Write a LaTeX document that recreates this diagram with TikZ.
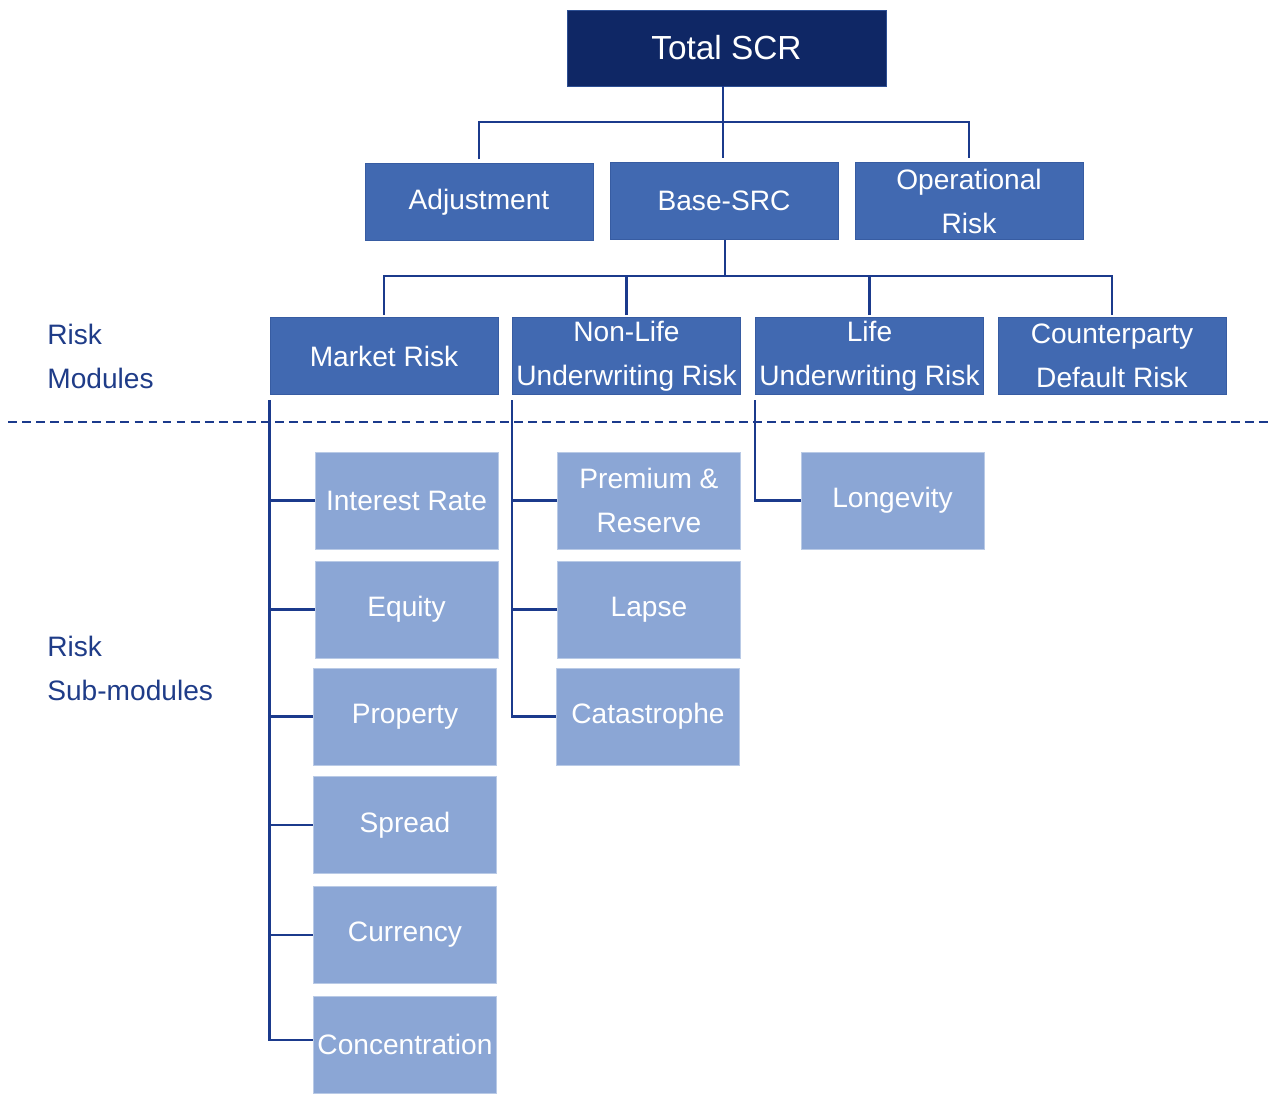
\documentclass[tikz,border=0pt]{standalone}
\usepackage{fontspec}
\setmainfont{Liberation Sans}
\usepackage{tikz}
\usetikzlibrary{positioning}

\definecolor{scrnavy}{HTML}{0F2765}
\definecolor{modblue}{HTML}{4169B1}
\definecolor{subblue}{HTML}{8BA6D5}
\definecolor{linkblue}{HTML}{1B3A8C}
\definecolor{labelblue}{HTML}{1F3C88}

\tikzset{
	topbox/.style={fill=scrnavy,draw=modblue!60!scrnavy,thin,text=white,minimum width=6.38cm,minimum height=1.52cm,inner sep=0pt,font=\fontsize{19}{25}\selectfont},
	modbox/.style={fill=modblue,draw=modblue!80!scrnavy,thin,text=white,minimum width=4.56cm,minimum height=1.55cm,inner sep=0pt,align=center,font=\fontsize{16}{25}\selectfont},
	subbox/.style={fill=subblue,draw=subblue!60!white,thin,text=white,minimum width=3.66cm,minimum height=1.94cm,inner sep=0pt,align=center,font=\fontsize{16}{25}\selectfont},
	link/.style={draw=linkblue,line width=1.5pt},
	sidelabel/.style={anchor=west,align=left,text=labelblue,inner sep=0pt,font=\fontsize{16}{25}\selectfont}
}

\begin{document}
\begin{tikzpicture}[x=0.02cm,y=-0.02cm]
	\useasboundingbox (0,0) rectangle (1271,1093);
	% draw top level
	\node[topbox] (total) at (726.5,48) {Total SCR};
	\node[modbox] (adj) at (479,202) {Adjustment};
	\node[modbox] (base) at (724,201) {Base-SRC};
	\node[modbox] (oper) at (969,201) {Operational\\Risk};
	% draw risk modules
	\node[modbox] (market) at (384,356) {Market Risk};
	\node[modbox] (nonlife) at (626.5,356) {Non-Life\\Underwriting Risk};
	\node[modbox] (life) at (869.5,356) {Life\\Underwriting Risk};
	\node[modbox] (cpty) at (1112,356) {Counterparty\\Default Risk};
	% draw sub-modules
	\node[subbox] (interest) at (406.5,500.5) {Interest Rate};
	\node[subbox] (equity) at (406.5,609.5) {Equity};
	\node[subbox] (property) at (405,716.5) {Property};
	\node[subbox] (spread) at (405,825) {Spread};
	\node[subbox] (currency) at (405,935) {Currency};
	\node[subbox] (conc) at (405,1044.5) {Concentration};
	\node[subbox] (premium) at (649,500.5) {Premium \&\\Reserve};
	\node[subbox] (lapse) at (649,609.5) {Lapse};
	\node[subbox] (cat) at (648,716.5) {Catastrophe};
	\node[subbox] (longevity) at (892.5,500.5) {Longevity};
	% side labels
	\node[sidelabel] (modlabel) at (47,356) {Risk\\Modules};
	\node[sidelabel] (sublabel) at (47,668) {Risk\\Sub-modules};
	% separator
	\draw[linkblue,line width=1.3pt,dash pattern=on 5pt off 3pt] (8,422) -- (1271,422);
	% connect top level
	\coordinate (j1) at (723,122);
	\draw[link] (total.south -| j1) -- (j1);
	\draw[link] ([yshift=2pt]adj.north) |- (j1) -| ([yshift=2pt]oper.north);
	\draw[link] (j1) -- ([yshift=2pt]base.north -| j1);
	% connect risk modules
	\coordinate (j2) at (725,276);
	\draw[link] (base.south -| j2) -- (j2);
	\draw[link] ([yshift=1pt]market.north) |- (j2) -| ([yshift=1pt]cpty.north);
	\draw[link] ([yshift=1pt]nonlife.north) -- (nonlife.north |- j2);
	\draw[link] ([yshift=1pt]life.north) -- (life.north |- j2);
	% connect sub-modules
	\draw[link] ([yshift=-3pt]market.south west) |- ([yshift=2.5pt]conc.west);
	\foreach \s in {interest,equity,property,spread,currency}
		\draw[link] (\s.west) -- (\s.west -| market.west);
	\draw[link] ([yshift=-3pt]nonlife.south west) |- (cat.west);
	\foreach \s in {premium,lapse}
		\draw[link] (\s.west) -- (\s.west -| nonlife.west);
	\draw[link] ([yshift=-3pt]life.south west) |- (longevity.west);
\end{tikzpicture}
\end{document}
